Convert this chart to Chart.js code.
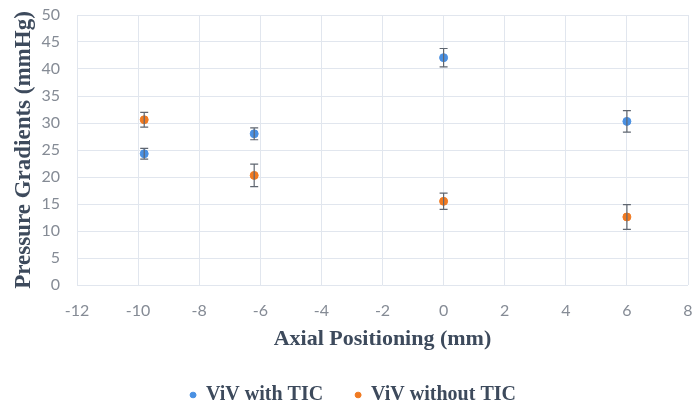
<!DOCTYPE html>
<html>
<head>
<meta charset="utf-8">
<script src="https://cdn.jsdelivr.net/npm/chart.js@4/dist/chart.umd.min.js"></script>
<style>
  html, body { margin: 0; padding: 0; background: #ffffff; }
  #wrap { width: 696px; height: 409px; position: relative; }
</style>
</head>
<body>
<div id="wrap"><canvas id="c" width="696" height="409"></canvas></div>
<script>
// ---- data ----
const seriesNames = ['ViV with TIC', 'ViV without TIC'];
const positions = [-9.8, -6.2, 0, 6];
const withTIC = [24.3, 28.0, 42.1, 30.3];
const withTICErr = [1.0, 1.1, 1.7, 2.0];
const withoutTIC = [30.6, 20.3, 15.5, 12.6];
const withoutTICErr = [1.35, 2.1, 1.5, 2.3];
const xTicks = [-12, -10, -8, -6, -4, -2, 0, 2, 4, 6, 8];
const yTicks = [0, 5, 10, 15, 20, 25, 30, 35, 40, 45, 50];

const blue = '#4a90e2';
const orange = '#f07a22';
const titleColor = '#3d4a5c';
const tickColor = '#858b95';
const gridColor = '#e1e6ee';

function toPoints(xs, ys, errs) {
  return xs.map((x, i) => ({ x: x, y: ys[i], err: errs[i] }));
}

const errorBars = {
  id: 'errorBars',
  afterDatasetsDraw(chart) {
    const ctx = chart.ctx;
    const xs = chart.scales.x, ys = chart.scales.y;
    ctx.save();
    ctx.strokeStyle = '#5f6670';
    ctx.lineWidth = 1.2;
    chart.data.datasets.forEach((ds) => {
      ds.data.forEach((p) => {
        const px = xs.getPixelForValue(p.x);
        const top = ys.getPixelForValue(p.y + p.err);
        const bot = ys.getPixelForValue(p.y - p.err);
        ctx.beginPath();
        ctx.moveTo(px, top); ctx.lineTo(px, bot);
        ctx.moveTo(px - 4, top); ctx.lineTo(px + 4, top);
        ctx.moveTo(px - 4, bot); ctx.lineTo(px + 4, bot);
        ctx.stroke();
      });
    });
    ctx.restore();
  }
};

new Chart(document.getElementById('c'), {
  type: 'scatter',
  data: {
    datasets: [
      { label: seriesNames[0], data: toPoints(positions, withTIC, withTICErr),
        backgroundColor: blue, borderColor: blue, pointRadius: 4, pointHoverRadius: 4 },
      { label: seriesNames[1], data: toPoints(positions, withoutTIC, withoutTICErr),
        backgroundColor: orange, borderColor: orange, pointRadius: 4, pointHoverRadius: 4 }
    ]
  },
  options: {
    responsive: false,
    animation: false,
    events: [],
    layout: { padding: { left: 18, right: 8, top: 15, bottom: -6 } },
    plugins: {
      tooltip: { enabled: false },
      legend: {
        position: 'bottom',
        labels: {
          usePointStyle: true,
          pointStyle: 'circle',
          pointStyleWidth: 6,
          boxHeight: 4,
          boxWidth: 6,
          padding: 32,
          color: titleColor,
          font: { family: '"Liberation Serif", "Times New Roman", serif', size: 20, weight: 'bold' }
        }
      }
    },
    scales: {
      x: {
        type: 'linear',
        min: xTicks[0], max: xTicks[xTicks.length - 1],
        afterBuildTicks(scale) { scale.ticks = xTicks.map(v => ({ value: v })); },
        afterFit(scale) { scale.height = 68; scale.paddingLeft = 0; scale.paddingRight = 0; },
        grid: { color: gridColor, drawTicks: false, lineWidth: 1 },
        border: { display: false },
        ticks: { color: tickColor, padding: 16, font: { family: 'Lato, "Open Sans", sans-serif', size: 16 } },
        title: {
          display: true, text: 'Axial Positioning (mm)', color: titleColor,
          padding: { top: 0, bottom: 0 },
          font: { family: '"Liberation Serif", "Times New Roman", serif', size: 22, weight: 'bold' }
        }
      },
      y: {
        type: 'linear',
        min: yTicks[0], max: yTicks[yTicks.length - 1],
        afterBuildTicks(scale) { scale.ticks = yTicks.map(v => ({ value: v })); },
        afterFit(scale) { scale.width = 59; scale.paddingTop = 0; scale.paddingBottom = 0; },
        grid: { color: gridColor, drawTicks: false, lineWidth: 1 },
        border: { display: false },
        ticks: { color: tickColor, padding: 17, font: { family: 'Lato, "Open Sans", sans-serif', size: 16 } },
        title: {
          display: true, text: 'Pressure Gradients (mmHg)', color: titleColor,
          padding: { top: -8, bottom: 0 },
          font: { family: '"Liberation Serif", "Times New Roman", serif', size: 23, weight: 'bold' }
        }
      }
    }
  },
  plugins: [errorBars]
});
</script>
</body>
</html>
